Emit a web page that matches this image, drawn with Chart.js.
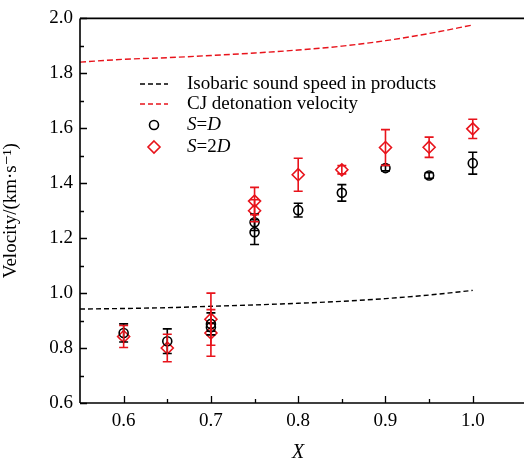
<!DOCTYPE html>
<html>
<head>
<meta charset="utf-8">
<script src="https://cdn.jsdelivr.net/npm/chart.js@4.4.1/dist/chart.umd.min.js"></script>
<style>
  html,body{margin:0;padding:0;background:#fff;}
  #wrap{width:524px;height:465px;}
</style>
</head>
<body>
<div id="wrap"><canvas id="velChart" width="524" height="465"></canvas></div>
<script>
// ==========================
// Data
// ==========================

const curveX = [0.55, 0.6, 0.65, 0.7, 0.75, 0.8, 0.85, 0.9, 0.95, 1.0];
const soundSpeed = [0.942, 0.944, 0.947, 0.952, 0.957, 0.963, 0.970, 0.980, 0.993, 1.010];
const cjVelocity = [1.841, 1.851, 1.857, 1.865, 1.874, 1.885, 1.899, 1.919, 1.945, 1.976];

const sdX = [0.6, 0.65, 0.7, 0.7, 0.75, 0.75, 0.8, 0.85, 0.9, 0.95, 1.0];
const sdY = [0.855, 0.825, 0.888, 0.876, 1.222, 1.258, 1.302, 1.365, 1.455, 1.428, 1.473];
const sdErr = [0.033, 0.045, 0.04, 0.015, 0.045, 0.03, 0.025, 0.03, 0.01, 0.01, 0.04];

const s2dX = [0.6, 0.65, 0.7, 0.7, 0.75, 0.75, 0.8, 0.85, 0.9, 0.95, 1.0];
const s2dY = [0.842, 0.800, 0.905, 0.855, 1.335, 1.300, 1.431, 1.449, 1.530, 1.531, 1.598];
const s2dErr = [0.04, 0.05, 0.095, 0.085, 0.05, 0.04, 0.06, 0.015, 0.065, 0.037, 0.035];

const xTicks = [0.6, 0.7, 0.8, 0.9, 1.0];
const yTicks = [0.6, 0.8, 1.0, 1.2, 1.4, 1.6, 1.8, 2.0];

const RED = "#e8131b";
const FONT = "'Liberation Serif', 'DejaVu Serif', serif";

const toPts = (xs, ys) => xs.map((x, i) => ({x: x, y: ys[i]}));

// ==========================
// Error bars + inward ticks + frame + legend
// ==========================

const errorBars = {
    id: "errorBars",
    afterDatasetsDraw(chart) {
        const ctx = chart.ctx;
        const xs = chart.scales.x, ys = chart.scales.y;
        chart.data.datasets.forEach(ds => {
            if (!ds.errors) return;
            ctx.save();
            ctx.strokeStyle = ds.borderColor;
            ctx.lineWidth = 1.6;
            ds.data.forEach((p, i) => {
                const e = ds.errors[i];
                const px = xs.getPixelForValue(p.x);
                const y1 = ys.getPixelForValue(p.y + e);
                const y2 = ys.getPixelForValue(p.y - e);
                ctx.beginPath();
                ctx.moveTo(px, y1); ctx.lineTo(px, y2);
                ctx.moveTo(px - 4.5, y1); ctx.lineTo(px + 4.5, y1);
                ctx.moveTo(px - 4.5, y2); ctx.lineTo(px + 4.5, y2);
                ctx.stroke();
            });
            ctx.restore();
        });
    }
};

const frameAndTicks = {
    id: "frameAndTicks",
    afterDraw(chart) {
        const ctx = chart.ctx;
        const a = chart.chartArea;
        const xs = chart.scales.x, ys = chart.scales.y;
        ctx.save();
        ctx.strokeStyle = "#000";
        ctx.lineWidth = 1.6;
        ctx.beginPath();
        ctx.moveTo(a.left, a.top); ctx.lineTo(chart.width, a.top);
        ctx.moveTo(a.left, a.top); ctx.lineTo(a.left, a.bottom);
        ctx.moveTo(a.left, a.bottom); ctx.lineTo(chart.width, a.bottom);
        ctx.stroke();
        ctx.lineWidth = 1.3;
        ctx.beginPath();
        for (let v = 0.6; v <= 2.0001; v += 0.1) {
            const py = Math.round(ys.getPixelForValue(v)) + 0.5;
            const major = Math.abs(v * 5 - Math.round(v * 5)) < 1e-6;
            ctx.moveTo(a.left, py); ctx.lineTo(a.left + (major ? 7 : 4), py);
        }
        for (let v = 0.6; v <= 1.0001; v += 0.05) {
            const px = Math.round(xs.getPixelForValue(v)) + 0.5;
            const major = Math.abs(v * 10 - Math.round(v * 10)) < 1e-6;
            ctx.moveTo(px, a.bottom); ctx.lineTo(px, a.bottom - (major ? 7 : 4));
        }
        ctx.stroke();

        // legend
        const lx1 = 140, lx2 = 168, tx = 187;
        const rows = [84, 104, 125, 147];
        ctx.font = "19px " + FONT;
        ctx.textBaseline = "middle";
        ctx.fillStyle = "#000";
        ctx.lineWidth = 1.4;
        ctx.setLineDash([5, 3]);
        ctx.strokeStyle = "#000";
        ctx.beginPath(); ctx.moveTo(lx1, rows[0]); ctx.lineTo(lx2, rows[0]); ctx.stroke();
        ctx.strokeStyle = RED;
        ctx.beginPath(); ctx.moveTo(lx1, rows[1]); ctx.lineTo(lx2, rows[1]); ctx.stroke();
        ctx.setLineDash([]);
        ctx.fillText("Isobaric sound speed in products", tx, rows[0]);
        ctx.fillText("CJ detonation velocity", tx, rows[1]);
        const mid = (lx1 + lx2) / 2;
        ctx.lineWidth = 1.6;
        ctx.strokeStyle = "#000";
        ctx.beginPath(); ctx.arc(mid, rows[2], 4.5, 0, Math.PI * 2); ctx.stroke();
        ctx.strokeStyle = RED;
        ctx.beginPath();
        ctx.moveTo(mid, rows[3] - 6); ctx.lineTo(mid + 6, rows[3]);
        ctx.lineTo(mid, rows[3] + 6); ctx.lineTo(mid - 6, rows[3]); ctx.closePath();
        ctx.stroke();
        const mixed = (parts, x, y) => {
            parts.forEach(([t, it]) => {
                ctx.font = (it ? "italic " : "") + "19px " + FONT;
                ctx.fillText(t, x, y);
                x += ctx.measureText(t).width;
            });
        };
        mixed([["S", 1], ["=", 0], ["D", 1]], tx, rows[2]);
        mixed([["S", 1], ["=2", 0], ["D", 1]], tx, rows[3]);
        ctx.restore();
    }
};

// ==========================
// Chart
// ==========================

const chart = new Chart(document.getElementById("velChart"), {

    type: "scatter",

    data: {
        datasets: [
            {
                label: "S=D",
                data: toPts(sdX, sdY),
                errors: sdErr,
                borderColor: "#000",
                backgroundColor: "rgba(0,0,0,0)",
                pointStyle: "circle",
                pointRadius: 4.5,
                pointBorderWidth: 1.6,
                showLine: false
            },
            {
                label: "S=2D",
                data: toPts(s2dX, s2dY),
                errors: s2dErr,
                borderColor: RED,
                backgroundColor: "rgba(0,0,0,0)",
                pointStyle: "rectRot",
                pointRadius: 6,
                pointBorderWidth: 1.6,
                showLine: false
            },
            {
                label: "Isobaric sound speed in products",
                data: toPts(curveX, soundSpeed),
                borderColor: "#000",
                borderWidth: 1.4,
                borderDash: [5, 3],
                pointRadius: 0,
                showLine: true,
                cubicInterpolationMode: "monotone"
            },
            {
                label: "CJ detonation velocity",
                data: toPts(curveX, cjVelocity),
                borderColor: RED,
                borderWidth: 1.4,
                borderDash: [6, 3],
                pointRadius: 0,
                showLine: true,
                cubicInterpolationMode: "monotone"
            }
        ]
    },

    options: {
        responsive: false,
        animation: false,
        layout: {padding: {top: 16, right: 0, left: 0, bottom: 0}},
        plugins: {
            legend: {display: false},
            tooltip: {enabled: false}
        },
        scales: {
            x: {
                type: "linear",
                min: 0.55,
                max: 1.05,
                afterBuildTicks: s => { s.ticks = xTicks.map(v => ({value: v})); },
                afterFit: s => { s.height = 62; },
                grid: {display: false, drawTicks: false},
                border: {display: false},
                ticks: {
                    color: "#000",
                    padding: 7,
                    font: {family: FONT, size: 19},
                    callback: v => v.toFixed(1)
                },
                title: {
                    display: true,
                    text: "X",
                    color: "#000",
                    padding: {top: 2, bottom: 0},
                    font: {family: FONT, size: 20, style: "italic"}
                }
            },
            y: {
                min: 0.6,
                max: 2.0,
                afterBuildTicks: s => { s.ticks = yTicks.map(v => ({value: v})); },
                afterFit: s => { s.width = 80; },
                grid: {display: false, drawTicks: false},
                border: {display: false},
                ticks: {
                    color: "#000",
                    padding: 7,
                    font: {family: FONT, size: 19},
                    callback: v => v.toFixed(1)
                },
                title: {
                    display: true,
                    text: "Velocity/(km\u00B7s\u207B\u00B9)",
                    color: "#000",
                    padding: {top: 0, bottom: 0},
                    font: {family: FONT, size: 19}
                }
            }
        }
    },

    plugins: [errorBars, frameAndTicks]

});
</script>
</body>
</html>
